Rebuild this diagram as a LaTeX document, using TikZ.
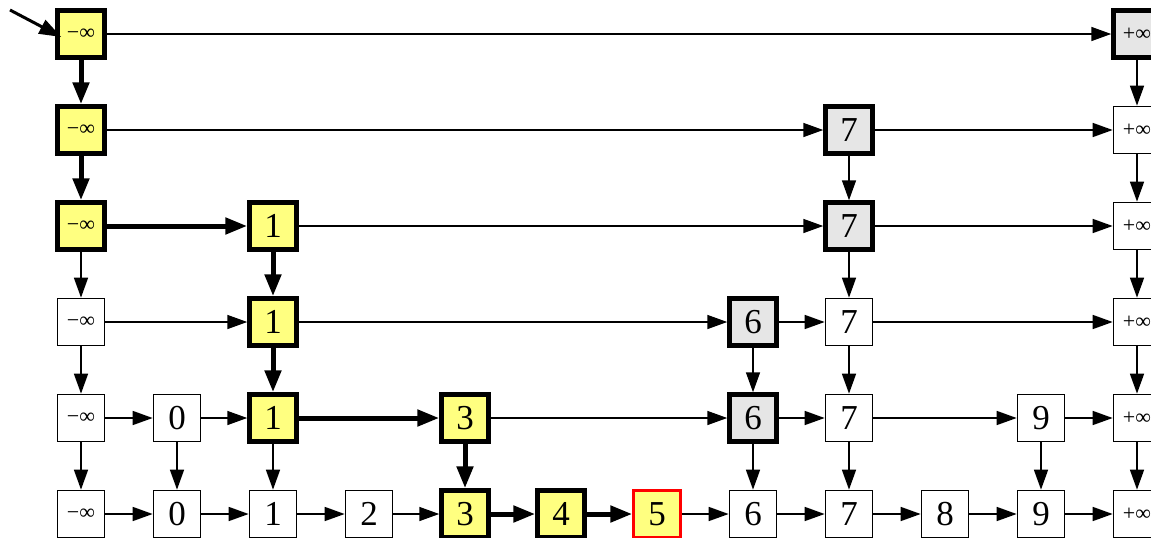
\documentclass[tikz,border=0pt]{standalone}
\usepackage{fontspec}
\setmainfont{Liberation Serif}
\usetikzlibrary{arrows.meta}
\definecolor{ylw}{RGB}{255,255,128}
\definecolor{gry}{RGB}{230,230,230}
\tikzset{
 box/.style={draw, line width=1.7pt, minimum size=47pt, inner sep=0pt, fill=white, font=\fontsize{35}{35}\selectfont},
 inf/.style={font=\fontsize{22}{22}\selectfont},
 hot/.style={line width=4.5pt, fill=ylw},
 grey/.style={line width=4.5pt, fill=gry},
 found/.style={line width=2.5pt, draw=red, fill=ylw},
 lnk/.style={line width=1.6pt, -{Triangle[length=20pt,width=14pt]}},
 srch/.style={line width=5pt, -{Triangle[length=22pt,width=16pt]}},
}
\newcommand{\nd}[4]{\node[box,#3] (n#1#2) at ({81+96*#2},{34+96*#1}) {#4};}
\begin{document}
\begin{tikzpicture}[x=1pt,y=-1pt]
\useasboundingbox (0,0) rectangle (1151,538);
% row 0
\nd{0}{0}{hot,inf}{−∞}
\nd{0}{11}{grey,inf}{+∞}
% row 1
\nd{1}{0}{hot,inf}{−∞}
\nd{1}{8}{grey}{7}
\nd{1}{11}{inf}{+∞}
% row 2
\nd{2}{0}{hot,inf}{−∞}
\nd{2}{2}{hot}{1}
\nd{2}{8}{grey}{7}
\nd{2}{11}{inf}{+∞}
% row 3
\nd{3}{0}{inf}{−∞}
\nd{3}{2}{hot}{1}
\nd{3}{7}{grey}{6}
\nd{3}{8}{}{7}
\nd{3}{11}{inf}{+∞}
% row 4
\nd{4}{0}{inf}{−∞}
\nd{4}{1}{}{0}
\nd{4}{2}{hot}{1}
\nd{4}{4}{hot}{3}
\nd{4}{7}{grey}{6}
\nd{4}{8}{}{7}
\nd{4}{10}{}{9}
\nd{4}{11}{inf}{+∞}
% row 5
\nd{5}{0}{inf}{−∞}
\nd{5}{1}{}{0}
\nd{5}{2}{}{1}
\nd{5}{3}{}{2}
\nd{5}{4}{hot}{3}
\nd{5}{5}{hot}{4}
\nd{5}{6}{found}{5}
\nd{5}{7}{}{6}
\nd{5}{8}{}{7}
\nd{5}{9}{}{8}
\nd{5}{10}{}{9}
\nd{5}{11}{inf}{+∞}
% entry
\coordinate (entry) at (10,10);
\draw[line width=3pt, -{Triangle[length=22pt,width=15pt]}] (entry) -- ([xshift=6pt,yshift=-3pt]n00.west);
% horizontal links
\draw[lnk] (n00) -- (n011);
\draw[lnk] (n10) -- (n18);
\draw[lnk] (n18) -- (n111);
\draw[srch] (n20) -- (n22);
\draw[lnk] (n22) -- (n28);
\draw[lnk] (n28) -- (n211);
\draw[lnk] (n30) -- (n32);
\draw[lnk] (n32) -- (n37);
\draw[lnk] (n37) -- (n38);
\draw[lnk] (n38) -- (n311);
\draw[lnk] (n40) -- (n41);
\draw[lnk] (n41) -- (n42);
\draw[srch] (n42) -- (n44);
\draw[lnk] (n44) -- (n47);
\draw[lnk] (n47) -- (n48);
\draw[lnk] (n48) -- (n410);
\draw[lnk] (n410) -- (n411);
\draw[lnk] (n50) -- (n51);
\draw[lnk] (n51) -- (n52);
\draw[lnk] (n52) -- (n53);
\draw[lnk] (n53) -- (n54);
\draw[srch] (n54) -- (n55);
\draw[srch] (n55) -- (n56);
\draw[lnk] (n56) -- (n57);
\draw[lnk] (n57) -- (n58);
\draw[lnk] (n58) -- (n59);
\draw[lnk] (n59) -- (n510);
\draw[lnk] (n510) -- (n511);
% vertical links
\draw[srch] (n00) -- (n10);
\draw[srch] (n10) -- (n20);
\draw[lnk] (n20) -- (n30);
\draw[lnk] (n30) -- (n40);
\draw[lnk] (n40) -- (n50);
\draw[lnk] (n41) -- (n51);
\draw[srch] (n22) -- (n32);
\draw[srch] (n32) -- (n42);
\draw[lnk] (n42) -- (n52);
\draw[srch] (n44) -- (n54);
\draw[lnk] (n37) -- (n47);
\draw[lnk] (n47) -- (n57);
\draw[lnk] (n18) -- (n28);
\draw[lnk] (n28) -- (n38);
\draw[lnk] (n38) -- (n48);
\draw[lnk] (n48) -- (n58);
\draw[lnk] (n410) -- (n510);
\draw[lnk] (n011) -- (n111);
\draw[lnk] (n111) -- (n211);
\draw[lnk] (n211) -- (n311);
\draw[lnk] (n311) -- (n411);
\draw[lnk] (n411) -- (n511);
\end{tikzpicture}
\end{document}
